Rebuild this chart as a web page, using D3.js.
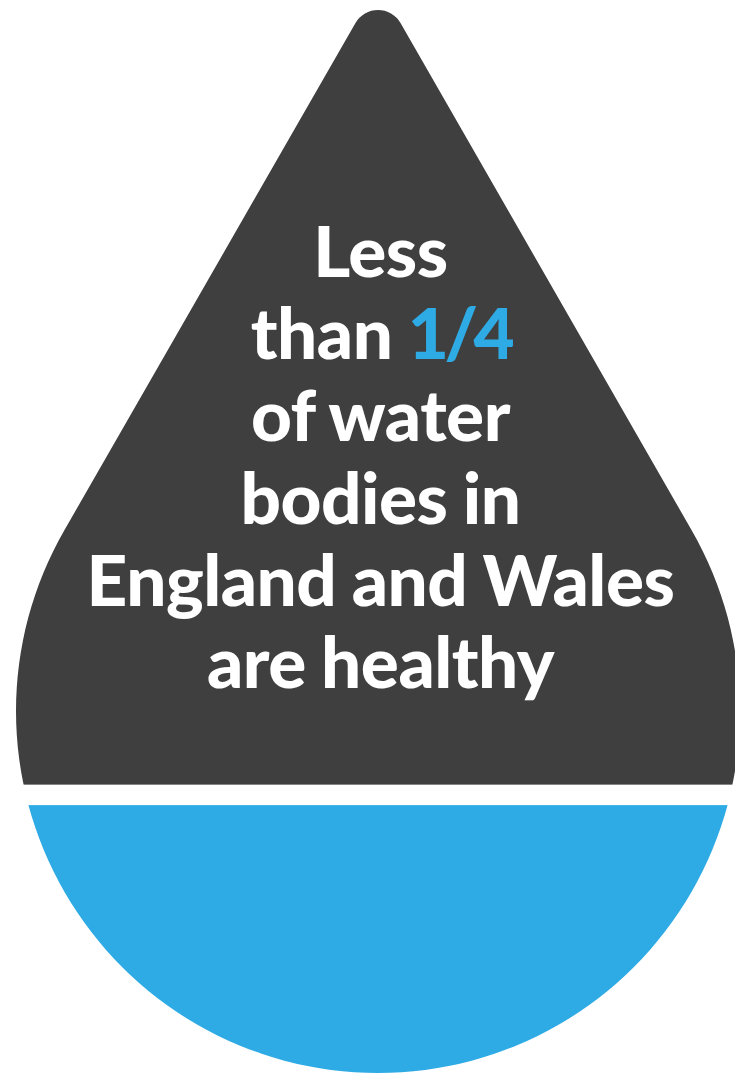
<!DOCTYPE html>
<html>
<head>
<meta charset="utf-8">
<script src="https://cdn.jsdelivr.net/npm/d3@7"></script>
<style>
  html, body { margin: 0; padding: 0; background: #fff; overflow: hidden; }
  svg { display: block; }
</style>
</head>
<body>
<div id="chart"></div>
<script>
// Share of the drop filled with water
const healthyShare = [0.252];
const unhealthyShare = [0.748];

// Text lines, each a list of [text, highlighted] runs
const lineRuns = [
    [["Less", false]],
    [["than ", false], ["1/4", true]],
    [["of water", false]],
    [["bodies in", false]],
    [["England and Wales", false]],
    [["are healthy", false]]
];

const width = 735;
const height = 1073;
const dark = "#3f3f3f";
const blue = "#2eabe5";

// Drop geometry
const cx = 378;
const dropTop = 10;
const dropBottom = 1073;
const R = 362;
const tipR = 26;
const halfAngle = Math.PI / 6;

const svg = d3.select("#chart")
    .append("svg")
    .attr("width", width)
    .attr("height", height);

// Fill level scale: 0 at the bottom of the drop, 1 at the tip
const level = d3.scaleLinear().domain([0, 1]).range([dropBottom, dropTop]);

// Build the drop outline: tip arc, straight sides, big circle
const cyBig = dropBottom - R;
const cyTip = dropTop + tipR;
const sin = Math.sin(halfAngle);
const cos = Math.cos(halfAngle);
const drop = d3.path();
drop.moveTo(cx - tipR * cos, cyTip - tipR * sin);
drop.arc(cx, cyTip, tipR, Math.PI + halfAngle, 2 * Math.PI - halfAngle);
drop.lineTo(cx + R * cos, cyBig - R * sin);
drop.arc(cx, cyBig, R, -halfAngle, Math.PI + halfAngle);
drop.closePath();

svg.append("defs")
    .append("clipPath")
    .attr("id", "drop-clip")
    .append("path")
    .attr("d", drop.toString());

const body = svg.append("g").attr("clip-path", "url(#drop-clip)");
const waterY = level(healthyShare[0]);
const gap = 20.5;

// Dark upper part
body.append("rect")
    .attr("x", 0)
    .attr("y", level(healthyShare[0] + unhealthyShare[0]))
    .attr("width", width)
    .attr("height", waterY - gap - level(healthyShare[0] + unhealthyShare[0]))
    .attr("fill", dark);

// Blue water part
body.append("rect")
    .attr("x", 0)
    .attr("y", waterY)
    .attr("width", width)
    .attr("height", level(0) - waterY)
    .attr("fill", blue);

// Text
const lineY = d3.scaleLinear().domain([0, lineRuns.length - 1]).range([277, 688]);

const lines = svg.append("g")
    .attr("text-anchor", "middle")
    .attr("font-family", "Lato, sans-serif")
    .attr("font-weight", 900)
    .attr("font-size", 71)
    .attr("letter-spacing", -0.5)
    .attr("word-spacing", -1)
    .selectAll("text")
    .data(lineRuns)
    .join("text")
    .attr("x", 380.5)
    .attr("y", (d, i) => lineY(i));

lines.selectAll("tspan")
    .data(d => d)
    .join("tspan")
    .attr("fill", d => d[1] ? blue : "#fff")
    .attr("letter-spacing", d => d[1] ? -4.5 : null)
    .style("white-space", "pre")
    .text(d => d[0]);
</script>
</body>
</html>
